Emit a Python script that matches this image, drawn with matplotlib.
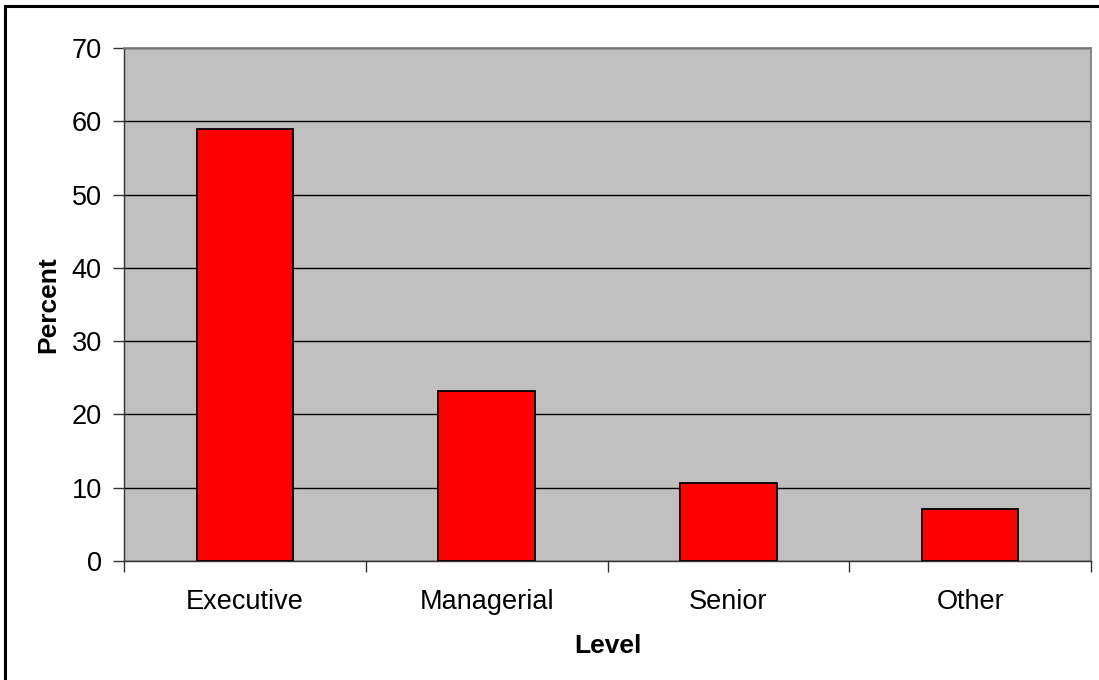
import matplotlib
matplotlib.use('Agg')
import matplotlib.pyplot as plt
from matplotlib.patches import Rectangle

plt.rcParams['font.family'] = ['Liberation Sans', 'DejaVu Sans']

# data
levels = ['Executive', 'Managerial', 'Senior', 'Other']
percent = [59.0, 23.2, 10.7, 7.1]

fig = plt.figure(figsize=(10.99, 6.8), dpi=100)
ax = fig.add_axes([124/1099, 1 - 561/680, (1091 - 124)/1099, (561 - 48)/680])
ax.set_facecolor('#C0C0C0')

x = range(len(levels))
ax.bar(x, percent, width=0.4, color='#FF0000', edgecolor='black', linewidth=1.3, zorder=3)

ax.set_xlim(-0.5, len(levels) - 0.5)
ax.set_ylim(0, 70)
ax.set_yticks(range(0, 71, 10))
ax.yaxis.grid(True, color='black', linewidth=1.0, zorder=1)
ax.set_axisbelow(True)

# category ticks sit between the bars
ax.set_xticks([i - 0.5 for i in range(len(levels) + 1)])
ax.set_xticklabels([])
ax.set_xticks(list(x), minor=True)
ax.set_xticklabels(levels, minor=True)
ax.tick_params(axis='x', which='major', direction='out', length=8, width=1, color='#333333')
ax.tick_params(axis='x', which='minor', length=0, pad=20, labelsize=19.5)
ax.tick_params(axis='y', direction='out', length=8, width=1, color='#333333', labelsize=19.5, pad=8)

for side in ['top', 'right']:
    ax.spines[side].set_color('#808080')
    ax.spines[side].set_linewidth(1.3)
for side in ['left', 'bottom']:
    ax.spines[side].set_color('#333333')
    ax.spines[side].set_linewidth(1.0)

ax.set_xlabel('Level', fontsize=19, fontweight='bold', labelpad=13.5)
ax.set_ylabel('Percent', fontsize=19, fontweight='bold', labelpad=8)

# outer frame of the chart
fig.patches.append(Rectangle((5/1099, -0.1), 1.2, 1.1 - 6/680, transform=fig.transFigure,
                             fill=False, edgecolor='black', linewidth=2.2))

fig.savefig('out.png', dpi=100)
